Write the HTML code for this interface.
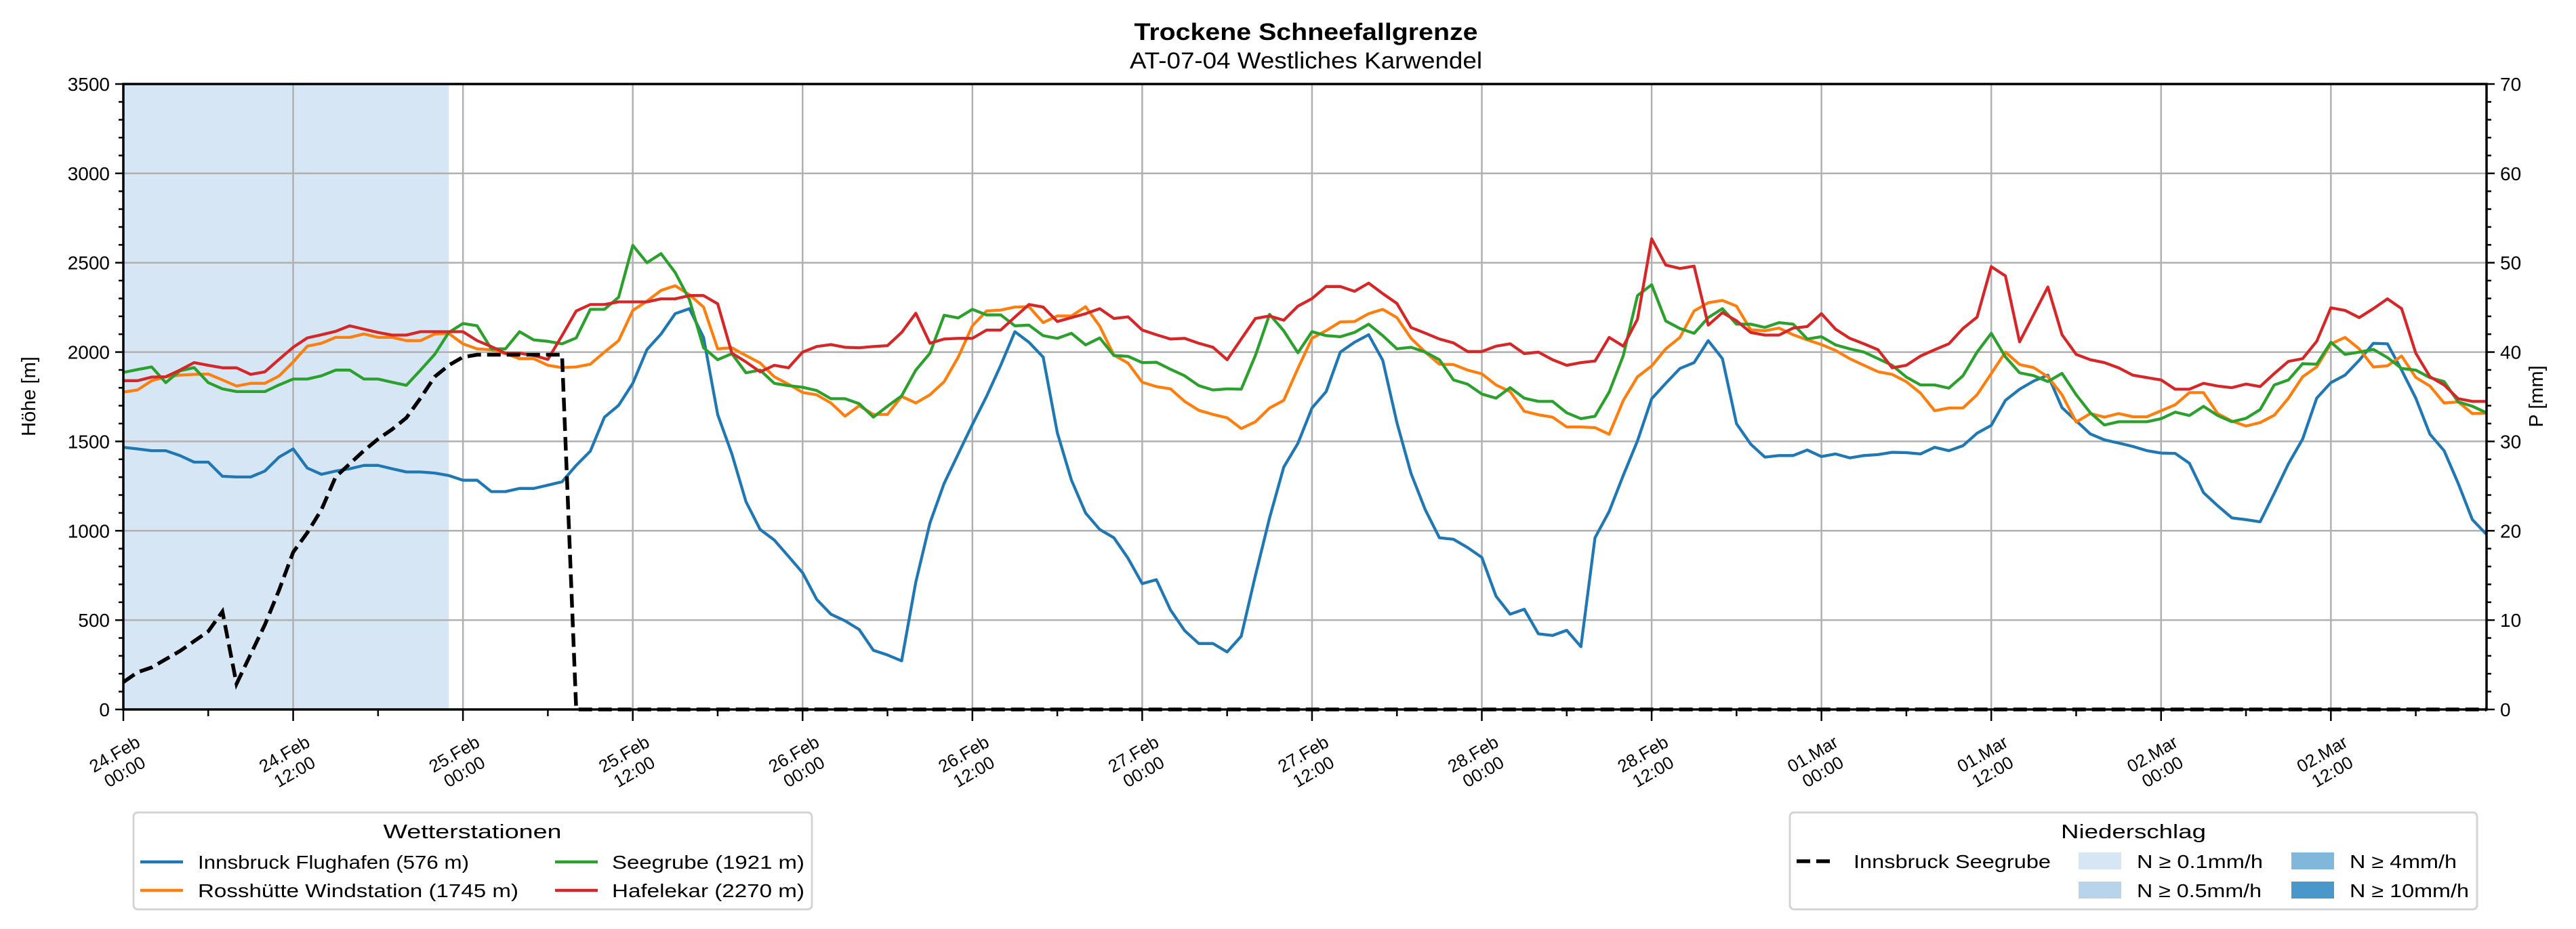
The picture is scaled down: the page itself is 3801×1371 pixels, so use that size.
<!DOCTYPE html>
<html><head><meta charset="utf-8"><style>
html,body{margin:0;padding:0;background:#fff;}
svg{display:block;font-family:"Liberation Sans",sans-serif;}
</style></head><body>
<svg id="chart" width="3801" height="1371" viewBox="0 0 3801 1371" xmlns="http://www.w3.org/2000/svg">
<text x="1927" y="59" text-anchor="middle" font-size="35" font-weight="bold" textLength="507" lengthAdjust="spacingAndGlyphs">Trockene Schneefallgrenze</text>
<text x="1927" y="101" text-anchor="middle" font-size="34" textLength="520" lengthAdjust="spacingAndGlyphs">AT-07-04 Westliches Karwendel</text>
<g id="plot"></g>
<text transform="translate(52,585) rotate(-90)" text-anchor="middle" font-size="29">Höhe [m]</text>
<text transform="translate(3752,585) rotate(-90)" text-anchor="middle" font-size="29">P [mm]</text>
<g>
<rect x="197" y="1199" width="1001" height="143" rx="6" fill="#fff" stroke="#d4d4d4" stroke-width="3"/>
<text x="697" y="1237" text-anchor="middle" font-size="29" textLength="263" lengthAdjust="spacingAndGlyphs">Wetterstationen</text>
<g><line x1="207" y1="1272" x2="270" y2="1272" stroke="#1f77b4" stroke-width="4.5"/><text x="292" y="1282" font-size="28" textLength="400" lengthAdjust="spacingAndGlyphs">Innsbruck Flughafen (576 m)</text></g>
<g><line x1="207" y1="1314" x2="270" y2="1314" stroke="#ff7f0e" stroke-width="4.5"/><text x="292" y="1324" font-size="28" textLength="473" lengthAdjust="spacingAndGlyphs">Rosshütte Windstation (1745 m)</text></g>
<g><line x1="819" y1="1272" x2="882" y2="1272" stroke="#2ca02c" stroke-width="4.5"/><text x="903" y="1282" font-size="28" textLength="284" lengthAdjust="spacingAndGlyphs">Seegrube (1921 m)</text></g>
<g><line x1="819" y1="1314" x2="882" y2="1314" stroke="#d62728" stroke-width="4.5"/><text x="903" y="1324" font-size="28" textLength="284" lengthAdjust="spacingAndGlyphs">Hafelekar (2270 m)</text></g>
</g>
<g>
<rect x="2641" y="1199" width="1014" height="143" rx="6" fill="#fff" stroke="#d4d4d4" stroke-width="3"/>
<text x="3148" y="1237" text-anchor="middle" font-size="29" textLength="214" lengthAdjust="spacingAndGlyphs">Niederschlag</text>
<g><line x1="2651" y1="1271" x2="2708" y2="1271" stroke="#000" stroke-width="5.5" stroke-dasharray="20,9"/><text x="2735" y="1281" font-size="28" textLength="291" lengthAdjust="spacingAndGlyphs">Innsbruck Seegrube</text></g>
<g><rect x="3067" y="1258" width="63" height="25" fill="#d6e6f4"/><text x="3153" y="1281" font-size="28" textLength="186" lengthAdjust="spacingAndGlyphs">N ≥ 0.1mm/h</text></g>
<g><rect x="3067" y="1301" width="63" height="25" fill="#b7d4ea"/><text x="3153" y="1324" font-size="28" textLength="184" lengthAdjust="spacingAndGlyphs">N ≥ 0.5mm/h</text></g>
<g><rect x="3381" y="1258" width="63" height="25" fill="#81b7da"/><text x="3467" y="1281" font-size="28" textLength="158" lengthAdjust="spacingAndGlyphs">N ≥ 4mm/h</text></g>
<g><rect x="3381" y="1301" width="63" height="25" fill="#4a98c9"/><text x="3467" y="1324" font-size="28" textLength="176" lengthAdjust="spacingAndGlyphs">N ≥ 10mm/h</text></g>
</g>
</svg>
<script>
const xTickLabels = ["24.Feb|00:00","24.Feb|12:00","25.Feb|00:00","25.Feb|12:00","26.Feb|00:00","26.Feb|12:00","27.Feb|00:00","27.Feb|12:00","28.Feb|00:00","28.Feb|12:00","01.Mar|00:00","01.Mar|12:00","02.Mar|00:00","02.Mar|12:00"];
const yTicks = [0,500,1000,1500,2000,2500,3000,3500];
const y2Ticks = [0,10,20,30,40,50,60,70];
const precipShade = [0,23];
const innsbruck = [1467,1458,1448,1448,1421,1384,1384,1305,1301,1301,1334,1412,1458,1351,1316,1334,1347,1366,1366,1347,1329,1329,1323,1309,1283,1283,1219,1219,1237,1237,1255,1274,1366,1445,1636,1702,1825,2014,2101,2215,2243,2082,
1650,1430,1163,1007,948,857,765,616,533,496,447,331,305,272,713,1044,1265,1430,1595,1752,1926,2114,2055,1972,1549,1283,1099,1007,961,846,704,726,557,441,369,369,322,410,750,1072,1356,1489,1687,1779,
2000,2055,2097,1954,1605,1320,1118,961,952,906,851,634,533,561,423,414,443,351,961,1108,1311,1503,1739,1825,1908,1941,2064,1963,1599,1485,1412,1421,1421,1452,1415,1430,1408,1421,1426,1439,
1437,1430,1467,1448,1476,1546,1590,1730,1792,1838,1871,1689,1615,1542,1509,1491,1472,1448,1435,1433,1378,1213,1140,1072,1062,1050,1210,1375,1513,1742,1829,1871,1954,2049,2046,1899,1742,1540,1448,1265,1062,980];
const rosshuette = [1776,1788,1840,1862,1871,1875,1877,1844,1810,1825,1825,1866,1945,2033,2049,2082,2082,2101,2082,2082,2064,2064,2101,2104,2046,2018,2013,1991,1963,1963,1926,1913,1917,1932,2000,2064,2233,2285,2345,2371,2321,2252,
2018,2024,1981,1939,1862,1820,1774,1761,1715,1641,1700,1651,1651,1752,1715,1761,1834,1972,2147,2230,2235,2252,2254,2165,2202,2202,2254,2145,1983,1938,1831,1807,1794,1724,1674,1651,1632,1572,1610,1687,1730,1908,2077,2120,
2169,2171,2215,2239,2193,2077,2000,1932,1930,1899,1878,1816,1779,1669,1649,1636,1581,1581,1577,1540,1730,1862,1922,2018,2082,2230,2276,2289,2257,2125,2119,2134,2097,2068,2042,2009,1963,1926,1890,1875,
1834,1770,1672,1687,1687,1761,1880,2000,1930,1913,1862,1761,1608,1656,1636,1656,1638,1638,1672,1705,1773,1773,1656,1614,1586,1605,1647,1742,1862,1917,2046,2082,2018,1917,1923,1978,1858,1810,1715,1721,1656,1658];
const seegrube = [1886,1902,1917,1829,1895,1913,1829,1794,1779,1779,1779,1816,1849,1849,1867,1899,1899,1849,1849,1831,1814,1899,1987,2110,2160,2147,2018,2018,2114,2068,2060,2046,2079,2239,2239,2307,2597,2500,2551,2445,2294,2024,
1957,1991,1884,1899,1825,1812,1803,1785,1739,1739,1711,1636,1697,1755,1899,1994,2206,2191,2239,2208,2208,2147,2151,2092,2077,2105,2040,2079,1981,1976,1941,1943,1904,1867,1812,1788,1794,1792,1981,2211,2119,1996,2114,2092,
2086,2110,2156,2092,2018,2027,2000,1957,1844,1820,1765,1742,1801,1742,1724,1724,1660,1627,1641,1776,1981,2316,2377,2174,2132,2105,2193,2243,2156,2156,2138,2165,2156,2073,2086,2040,2018,2000,1963,1926,
1860,1816,1816,1798,1867,2000,2105,1973,1884,1868,1835,1881,1761,1660,1592,1610,1610,1610,1627,1664,1645,1696,1645,1610,1629,1678,1816,1844,1935,1932,2055,1987,2000,2015,1969,1908,1899,1857,1835,1721,1697,1660];
const hafelekar = [1840,1840,1860,1862,1899,1941,1926,1912,1912,1875,1889,1959,2027,2079,2097,2116,2147,2128,2110,2095,2095,2114,2114,2114,2114,2064,2031,1994,1994,1981,1959,2092,2230,2266,2266,2281,2281,2281,2298,2298,2316,2316,
2270,1994,1945,1889,1926,1912,2000,2031,2042,2027,2024,2031,2036,2110,2217,2049,2073,2077,2077,2123,2123,2196,2266,2252,2171,2193,2215,2243,2188,2197,2123,2097,2073,2077,2049,2027,1957,2073,2188,2202,2178,2257,2299,2367,
2367,2340,2386,2327,2272,2137,2106,2073,2051,2003,2003,2033,2046,1991,2000,1957,1926,1941,1950,2082,2033,2184,2634,2487,2468,2481,2151,2221,2175,2110,2095,2095,2134,2143,2215,2128,2077,2046,2013,1912,
1926,1978,2013,2046,2132,2196,2478,2426,2057,2210,2364,2097,1987,1957,1941,1912,1871,1857,1844,1792,1792,1825,1810,1801,1821,1807,1880,1948,1963,2060,2248,2233,2193,2243,2298,2243,1994,1862,1816,1739,1724,1724];
const seegrubeSnowline = [153,208,235,281,327,382,437,548,143,309,474,667,880,989,1118,1301,1375,1448,1513,1568,1632,1742,1862,1926,1972,1985,1985,1985,1985,1985,1985,1985,
0,0,0,0,0,0,0,0,0,0,0,0,0,0,0,0,0,0,0,0,0,0,0,0,0,0,0,0,0,0,0,0,0,0,0,0,0,0,0,0,0,0,0,0,0,0,0,0,0,0,0,0,0,0,0,0,0,0,0,0,0,0,0,0,0,0,0,0,0,0,0,0,0,0,0,0,0,0,0,0,0,0,0,0,0,0,0,0,0,0,0,0,0,0,0,0,0,0,0,0,0,0,0,0,0,0,0,0,0,0,0,0,0,0,0,0,0,0,0,0,0,0,0,0,0,0,0,0,0,0,0,0,0,0,0,0];

const NS = "http://www.w3.org/2000/svg";
const L = 182, R = 3669, T = 124, B = 1047, XMAX = 167, YMAX = 3500, Y2MAX = 70;
function X(h){ return L + h * (R - L) / XMAX; }
function Y(v){ return B - v / YMAX * (B - T); }
function Y2(v){ return B - v / Y2MAX * (B - T); }
const plot = document.getElementById('plot');
function mk(tag, attrs, parent){
  const e = document.createElementNS(NS, tag);
  for (const k in attrs) e.setAttribute(k, attrs[k]);
  (parent || plot).appendChild(e);
  return e;
}
const shade = mk('rect', {x: X(precipShade[0]), y: T, width: X(precipShade[1]) - X(precipShade[0]), height: B - T, fill: '#d6e6f4'});


xTickLabels.forEach((lab, i) => {
  const g = mk('line', {x1: X(i*12), x2: X(i*12), y1: T, y2: B, stroke: '#b0b0b0', 'stroke-width': 2.5});
  
  
});
yTicks.forEach(v => {
  const g = mk('line', {x1: L, x2: R, y1: Y(v), y2: Y(v), stroke: '#b0b0b0', 'stroke-width': 2.5});
  
  
});
function series(vals, color, name, extra){
  const d = vals.map((v, i) => (i ? 'L' : 'M') + X(i).toFixed(1) + ' ' + Y(v).toFixed(1)).join(' ');
  const p = mk('path', Object.assign({d: d, fill: 'none', stroke: color, 'stroke-width': 4.3, 'stroke-linejoin': 'round'}, extra || {}));
  
  
}
series(innsbruck, '#1f77b4', 'innsbruck-line');
series(rosshuette, '#ff7f0e', 'rosshuette-line');
series(seegrube, '#2ca02c', 'seegrube-line');
series(hafelekar, '#d62728', 'hafelekar-line');
series(seegrubeSnowline, '#000', 'seegrube-snowline', {'stroke-width': 5.5, 'stroke-dasharray': '20,9', 'stroke-linejoin': 'miter'});
const sp = mk('rect', {x: L, y: T, width: R - L, height: B - T, fill: 'none', stroke: '#000', 'stroke-width': 3.5});


for (let v = 0; v <= YMAX; v += 100) {
  const major = v % 500 === 0;
  const len = major ? 12 : 7;
  mk('line', {x1: L - len, x2: L, y1: Y(v), y2: Y(v), stroke: '#000', 'stroke-width': 2.5});
  mk('line', {x1: R, x2: R + len, y1: Y(v), y2: Y(v), stroke: '#000', 'stroke-width': 2.5});
}
yTicks.forEach(v => {
  const t = mk('text', {x: L - 20, y: Y(v) + 10, 'text-anchor': 'end', 'font-size': 28});
  t.textContent = v;
  
  
});
y2Ticks.forEach(v => {
  const t = mk('text', {x: R + 20, y: Y2(v) + 10, 'text-anchor': 'start', 'font-size': 28});
  t.textContent = v;
  
  
});
for (let h = 0; h <= XMAX; h += 6) {
  const major = h % 12 === 0;
  mk('line', {x1: X(h), x2: X(h), y1: B, y2: B + (major ? 17 : 10), stroke: '#000', 'stroke-width': 2.5});
}
xTickLabels.forEach((lab, i) => {
  const parts = lab.split('|');
  const g = mk('g', {transform: 'translate(' + (X(i*12) - 6) + ',1125) rotate(-30)'});
  
  
  const a = mk('text', {x: 0, y: -5, 'text-anchor': 'middle', 'font-size': 26}, g);
  a.textContent = parts[0];
  const b = mk('text', {x: 0, y: 25, 'text-anchor': 'middle', 'font-size': 26}, g);
  b.textContent = parts[1];
});
</script>
</body></html>
